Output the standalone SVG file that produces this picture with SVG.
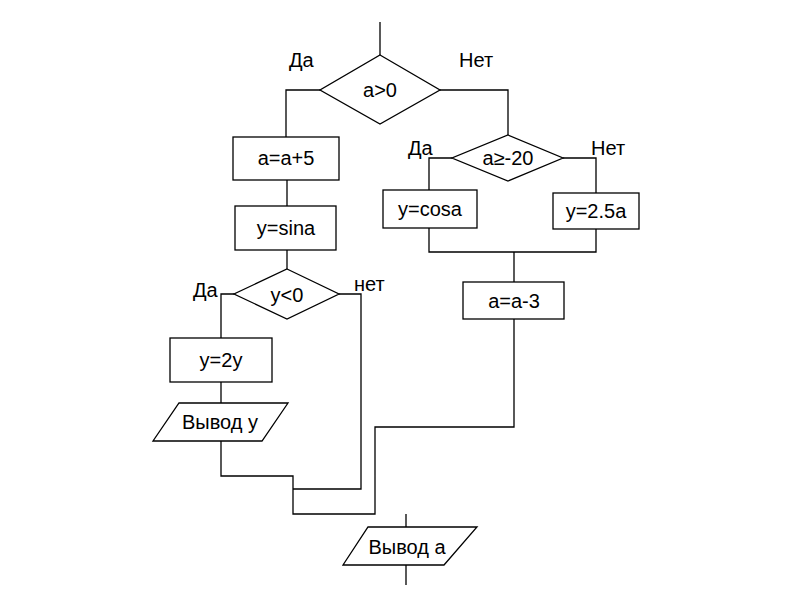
<svg xmlns="http://www.w3.org/2000/svg" width="800" height="600" viewBox="0 0 800 600">
<style>
.s{fill:#fff;stroke:#000;stroke-width:1.3}
.c{fill:none;stroke:#000;stroke-width:1.3}
text{font-family:"Liberation Sans",Arial,sans-serif;font-size:20px;fill:#000}
.m{text-anchor:middle}
</style>
<rect width="800" height="600" fill="#fff"/>
<g id="connectors">
<path class="c" d="M380,22V55"/>
<path class="c" d="M320,90H286V137"/>
<path class="c" d="M440,90H508V135"/>
<path class="c" d="M287,180V206"/>
<path class="c" d="M287,250V269"/>
<path class="c" d="M234,294H221V338"/>
<path class="c" d="M221,382V403"/>
<path class="c" d="M221,441V476H293V514H375V427H514V319"/>
<path class="c" d="M339,294H361V489H293"/>
<path class="c" d="M452,158H429V190"/>
<path class="c" d="M563,158H596V193"/>
<path class="c" d="M429,228V252H596V229"/>
<path class="c" d="M514,252V282"/>
<path class="c" d="M406,514V527"/>
<path class="c" d="M406,565V585"/>
</g>
<g id="cond_a_gt_0">
<polygon class="s" points="380,55 440,90 380,124 320,90"/>
<text class="m" x="380" y="97">a&gt;0</text>
<text x="289" y="67">Да</text>
<text x="459" y="67">Нет</text>
</g>
<g id="a_plus_5">
<rect class="s" x="233" y="137" width="106" height="43"/>
<text class="m" x="286" y="165">a=a+5</text>
</g>
<g id="y_sina">
<rect class="s" x="235" y="206" width="101" height="44"/>
<text class="m" x="286" y="235">y=sina</text>
</g>
<g id="cond_y_lt_0">
<polygon class="s" points="287,269 339,294 287,319 234,294"/>
<text class="m" x="287" y="302">y&lt;0</text>
<text x="193" y="297">Да</text>
<text x="354" y="291">нет</text>
</g>
<g id="y_2y">
<rect class="s" x="170" y="338" width="102" height="44"/>
<text class="m" x="221" y="367">y=2y</text>
</g>
<g id="out_y">
<polygon class="s" points="179,403 288,403 262,441 153,441"/>
<text class="m" x="220" y="429">Вывод у</text>
</g>
<g id="cond_a_ge_m20">
<polygon class="s" points="508,135 563,158 508,181 452,158"/>
<text class="m" x="508" y="165">a≥-20</text>
<text x="408" y="155">Да</text>
<text x="591" y="155">Нет</text>
</g>
<g id="y_cosa">
<rect class="s" x="383" y="190" width="94" height="38"/>
<text class="m" x="430" y="216">y=cosa</text>
</g>
<g id="y_25a">
<rect class="s" x="553" y="193" width="86" height="36"/>
<text class="m" x="596" y="218">y=2.5a</text>
</g>
<g id="a_minus_3">
<rect class="s" x="463" y="282" width="101" height="37"/>
<text class="m" x="514" y="308">a=a-3</text>
</g>
<g id="out_a">
<polygon class="s" points="368,527 477,527 444,565 343,565"/>
<text class="m" x="407" y="554">Вывод а</text>
</g>
</svg>
